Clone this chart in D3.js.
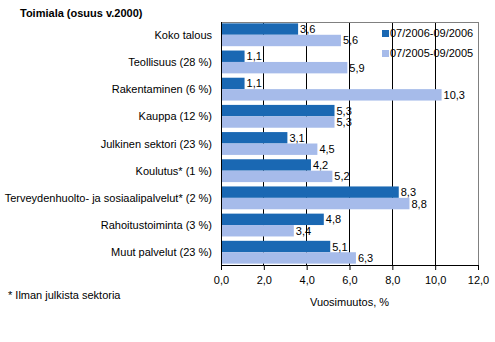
<html>
<head>
<meta charset="utf-8">
<script src="https://d3js.org/d3.v7.min.js"></script>
<style>
body {
	margin: 0;
	background: #fff;
}
text {
	font-family: Arial, "Liberation Sans", sans-serif;
	font-size: 11px;
	fill: #000;
}
</style>
</head>
<body>
<div id="chart"></div>
<script>
	var categories = ["Koko talous", "Teollisuus (28 %)", "Rakentaminen (6 %)", "Kauppa (12 %)",
		"Julkinen sektori (23 %)", "Koulutus* (1 %)", "Terveydenhuolto- ja sosiaalipalvelut* (2 %)",
		"Rahoitustoiminta (3 %)", "Muut palvelut (23 %)"];
	var seriesNames = ["07/2006-09/2006", "07/2005-09/2005"];
	var values2006 = [3.6, 1.1, 1.1, 5.3, 3.1, 4.2, 8.3, 4.8, 5.1];
	var values2005 = [5.6, 5.9, 10.3, 5.3, 4.5, 5.2, 8.8, 3.4, 6.3];
	var ticks = [0, 2, 4, 6, 8, 10, 12];
	var colors = ["#1a68b3", "#a6bbea"];

	var width = 495, height = 342;
	var plot = {left: 221, right: 478, top: 22, bottom: 265};

	var svg = d3.select("#chart").append("svg")
		.attr("width", width)
		.attr("height", height);

	var x = d3.scaleLinear().domain([0, 12]).range([plot.left, plot.right]);
	var y = d3.scaleBand().domain(categories).range([plot.top, plot.bottom])
		.paddingInner(0.16).paddingOuter(0.05);
	var sub = d3.scaleBand().domain([0, 1]).range([0, y.bandwidth()]);

	// vertical grid lines
	svg.append("g").selectAll("line")
		.data(ticks.slice(1, -1))
		.enter().append("line")
		.attr("x1", d => x(d)).attr("x2", d => x(d))
		.attr("y1", plot.top).attr("y2", plot.bottom)
		.attr("stroke", "#000").attr("stroke-width", 1)
		.attr("shape-rendering", "crispEdges");

	// gray frame top/right
	svg.append("path")
		.attr("d", `M${plot.left},${plot.top + 0.5}H${plot.right + 0.5}V${plot.bottom}`)
		.attr("fill", "none").attr("stroke", "#808080")
		.attr("shape-rendering", "crispEdges");

	var rows = categories.map((c, i) => ({cat: c, vals: [values2006[i], values2005[i]]}));

	var groups = svg.append("g").selectAll("g")
		.data(rows)
		.enter().append("g")
		.attr("transform", d => `translate(0,${y(d.cat)})`);

	groups.selectAll("rect")
		.data(d => d.vals.map((v, k) => ({v: v, k: k})))
		.enter().append("rect")
		.attr("x", x(0))
		.attr("y", d => sub(d.k))
		.attr("width", d => x(d.v) - x(0))
		.attr("height", sub.bandwidth())
		.attr("fill", d => colors[d.k]);

	groups.selectAll("text.val")
		.data(d => d.vals.map((v, k) => ({v: v, k: k})))
		.enter().append("text")
		.attr("class", "val")
		.attr("x", d => x(d.v) + 2)
		.attr("y", d => sub(d.k) + sub.bandwidth() / 2 + 4)
		.text(d => String(d.v.toFixed(1)).replace(".", ","));

	// axes
	var xAxis = svg.append("g")
		.attr("transform", `translate(0,${plot.bottom})`)
		.call(d3.axisBottom(x).tickValues(ticks).tickSize(5).tickPadding(6)
			.tickFormat(d => d.toFixed(1).replace(".", ",")));
	xAxis.select(".domain").attr("d", `M${plot.left},0.5H${plot.right}`).attr("stroke", "#000");
	xAxis.selectAll(".tick line").attr("stroke", "#000");
	xAxis.selectAll("text").style("font-size", "11px").style("font-family", "Arial, sans-serif");

	svg.append("line")
		.attr("x1", plot.left + 0.5).attr("x2", plot.left + 0.5)
		.attr("y1", plot.top).attr("y2", plot.bottom)
		.attr("stroke", "#000");

	// category labels
	svg.append("g").selectAll("text")
		.data(categories)
		.enter().append("text")
		.attr("x", 212)
		.attr("y", d => y(d) + y.bandwidth() / 2 + 4)
		.attr("text-anchor", "end")
		.text(d => d);

	// title, axis label, note
	svg.append("text").attr("x", 20).attr("y", 17)
		.style("font-weight", "bold").text("Toimiala (osuus v.2000)");
	svg.append("text").attr("x", (plot.left + plot.right) / 2).attr("y", 306)
		.attr("text-anchor", "middle").text("Vuosimuutos, %");
	svg.append("text").attr("x", 8).attr("y", 299).text("* Ilman julkista sektoria");

	// legend
	var legend = svg.append("g").selectAll("g")
		.data(seriesNames)
		.enter().append("g")
		.attr("transform", (d, i) => `translate(382,${33 + i * 20})`);
	legend.append("rect").attr("width", 7).attr("height", 7).attr("y", -3)
		.attr("fill", (d, i) => colors[i]);
	legend.append("text").attr("x", 8).attr("y", 4).text(d => d);
</script>
</body>
</html>
